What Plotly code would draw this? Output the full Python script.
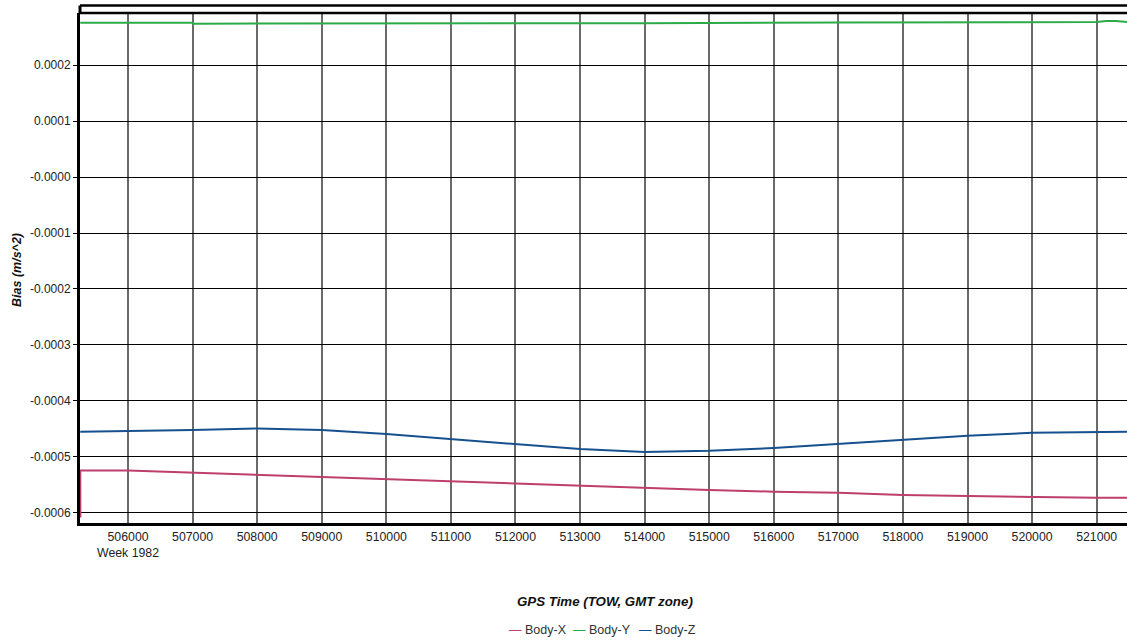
import plotly.graph_objects as go

# ---- data ----
tow = [505260, 506000, 507000, 508000, 509000, 510000, 511000, 512000, 513000,
       514000, 515000, 516000, 517000, 518000, 519000, 520000, 521000, 521470]

body_x_tow = [505262] + tow
body_x = [-0.000608, -0.000524, -0.000524, -0.000528, -0.000531, -0.000536, -0.000539,
          -0.000544, -0.000548, -0.000552, -0.000555, -0.000559, -0.000562,
          -0.000564, -0.000568, -0.000570, -0.000571, -0.000573, -0.000573]

body_y_tow = [505260, 507000, 507010, 512000, 514000, 517000, 521000, 521150, 521300, 521470]
body_y = [0.0002755, 0.0002755, 0.0002740, 0.0002740, 0.0002748, 0.0002760,
          0.0002770, 0.0002785, 0.0002788, 0.0002770]

body_z = [-0.000455, -0.000454, -0.000452, -0.000449, -0.000452, -0.000459,
          -0.000468, -0.000477, -0.000486, -0.000491, -0.000489, -0.000484,
          -0.000477, -0.000470, -0.000462, -0.000457, -0.000455, -0.000455]

series_names = ["Body-X", "Body-Y", "Body-Z"]
series_colors = ["#BE3F6C", "#2DAA48", "#17508E"]

x_tickvals = list(range(506000, 522000, 1000))
x_ticktext = ["506000<br>Week 1982"] + [str(v) for v in x_tickvals[1:]]
y_tickvals = [0.0002, 0.0001, 0.0, -0.0001, -0.0002, -0.0003, -0.0004, -0.0005, -0.0006]
y_ticktext = ["0.0002", "0.0001", "-0.0000", "-0.0001", "-0.0002", "-0.0003",
              "-0.0004", "-0.0005", "-0.0006"]

x_range = [505256, 521470]
y_range = [-0.000618, 0.000293]

FONT = "Liberation Sans, Arial, sans-serif"

fig = go.Figure()
for name, xs, ys, col in zip(series_names,
                             [body_x_tow, body_y_tow, tow],
                             [body_x, body_y, body_z],
                             series_colors):
    fig.add_trace(go.Scatter(x=xs, y=ys, mode="lines", name=name,
                             line=dict(color=col, width=2), showlegend=False))

fig.update_layout(
    width=1127, height=640,
    margin=dict(l=80, r=0, t=13, b=117),
    paper_bgcolor="white", plot_bgcolor="white",
    font=dict(family=FONT, size=12, color="#222"),
)
fig.update_xaxes(
    range=x_range, tickvals=x_tickvals, ticktext=x_ticktext,
    showgrid=True, gridcolor="#6a6a6a", gridwidth=1.5,
    showline=True, linecolor="black", linewidth=3, mirror=False,
    ticks="", zeroline=False, tickfont=dict(size=12.3, color="#222"),
)
fig.update_yaxes(
    range=y_range, tickvals=y_tickvals, ticktext=y_ticktext,
    showgrid=True, gridcolor="black", gridwidth=1,
    showline=True, linecolor="black", linewidth=3,
    ticks="outside", ticklen=4, tickcolor="black", tickwidth=1,
    zeroline=False, tickfont=dict(size=12, color="#222"),
)

# top frame lines
fig.add_shape(type="line", xref="paper", yref="paper", x0=0, x1=1, y0=1, y1=1,
              line=dict(color="black", width=2.5))
fig.add_shape(type="line", xref="paper", yref="paper", x0=0, x1=1,
              y0=1 + 7.5 / 510, y1=1 + 7.5 / 510, line=dict(color="black", width=2.5))
fig.add_shape(type="line", xref="paper", yref="paper", x0=0, x1=0,
              y0=1, y1=1 + 7.5 / 510, line=dict(color="black", width=3))

# axis titles
fig.add_annotation(text="<b><i>GPS Time (TOW, GMT zone)</i></b>", xref="paper", yref="paper",
                   x=(605 - 80) / 1047, y=-(601 - 523) / 510, showarrow=False,
                   font=dict(size=13.3, color="#111"), xanchor="center", yanchor="middle")
fig.add_annotation(text="<b><i>Bias (m/s^2)</i></b>", xref="paper", yref="paper",
                   x=-(80 - 17) / 1047, y=(523 - 270) / 510, showarrow=False, textangle=-90,
                   font=dict(size=12.5, color="#111"), xanchor="center", yanchor="middle")

# legend
leg_x = [538, 602, 667]
for name, col, lx in zip(series_names, series_colors, leg_x):
    fig.add_annotation(text=f"<span style='color:{col}'>—</span> {name}",
                       xref="paper", yref="paper", x=(lx - 80) / 1047,
                       y=-(630 - 523) / 510, showarrow=False, xanchor="center",
                       yanchor="middle", font=dict(size=12.5, color="#333"))

fig.write_html("out.html", config={"displayModeBar": False},
               post_script="document.body.style.margin='0';document.body.style.overflow='hidden';")
